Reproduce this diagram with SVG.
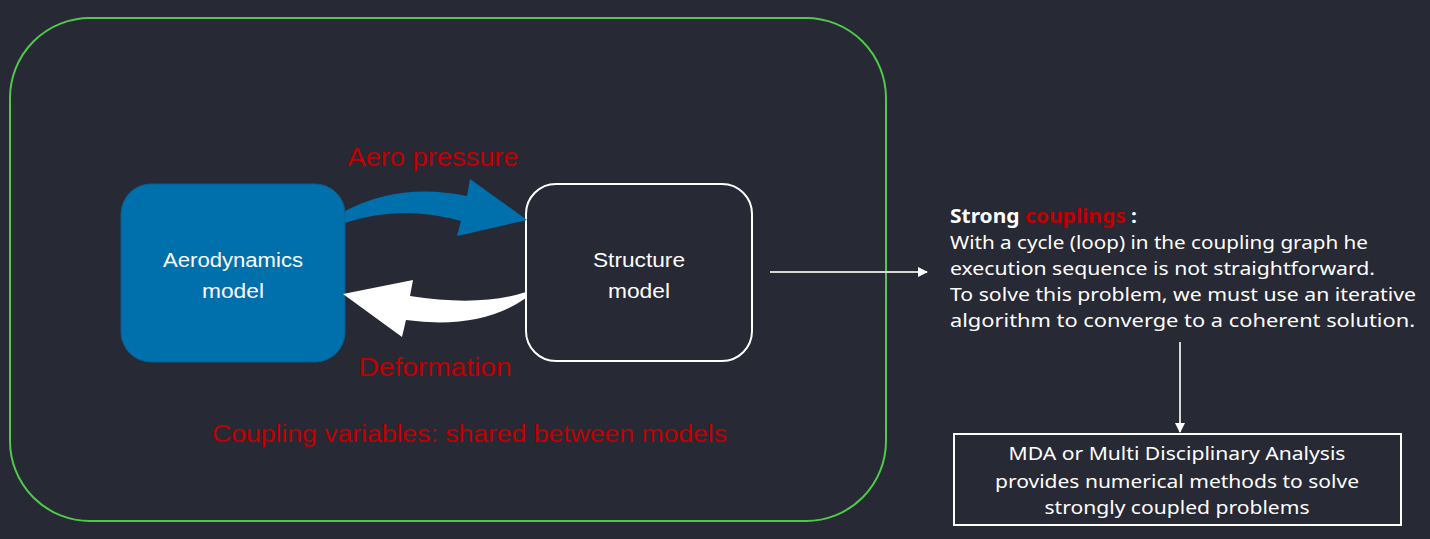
<svg xmlns="http://www.w3.org/2000/svg" width="1430" height="539" viewBox="0 0 1430 539">
<defs>
<marker id="ah" viewBox="0 0 10 10" refX="9" refY="5" markerWidth="10" markerHeight="10" markerUnits="userSpaceOnUse" orient="auto">
<path d="M0,0 L10,5 L0,10 Z" fill="#ffffff"/>
</marker>
<style>
.red{fill:#c00000}
.cal{font-family:"Liberation Sans","Open Sans",sans-serif}
.ub{font-family:"Noto Sans","Open Sans",sans-serif}
.wt{fill:#ffffff}
.conn{stroke:#d8d8d8;stroke-width:2;fill:none;marker-end:url(#ah)}
</style>
</defs>
<rect x="0" y="0" width="1430" height="539" fill="#272935"/>
<g id="frame">
<rect x="10" y="18" width="876" height="503" rx="80" ry="80" fill="none" stroke="#4ec94a" stroke-width="2"/>
</g>
<g id="aero">
<rect x="121" y="184" width="224" height="178" rx="30" ry="30" fill="#0070ad" stroke="#0a5d8e" stroke-width="1"/>
<text class="cal wt" x="233" y="267" font-size="20" text-anchor="middle" textLength="140" lengthAdjust="spacingAndGlyphs">Aerodynamics</text>
<text class="cal wt" x="233" y="298" font-size="20" text-anchor="middle" textLength="62" lengthAdjust="spacingAndGlyphs">model</text>
</g>
<g id="structure">
<rect x="526" y="184" width="226" height="177" rx="30" ry="30" fill="#272935" stroke="#ffffff" stroke-width="2"/>
<text class="cal wt" x="639" y="267" font-size="20" text-anchor="middle" textLength="92" lengthAdjust="spacingAndGlyphs">Structure</text>
<text class="cal wt" x="639" y="298" font-size="20" text-anchor="middle" textLength="62" lengthAdjust="spacingAndGlyphs">model</text>
</g>
<g id="connectors">
<path d="M345,211 Q400,182 467,196 L470,179 L527,220 L457,236 L461,221 Q400,204 345,223 Z" fill="#0070ad"/>
<path d="M526,292 Q480,307 410,296 L413,280 L343,294 L402,337 L406,320 Q480,330 526,298 Z" fill="#ffffff"/>
<line class="conn" x1="770" y1="272" x2="927" y2="272"/>
<line class="conn" x1="1180" y1="342" x2="1180" y2="432"/>
</g>
<g id="labels">
<text class="cal red" x="433" y="166" font-size="25" text-anchor="middle" textLength="171" lengthAdjust="spacingAndGlyphs">Aero pressure</text>
<text class="cal red" x="435" y="376" font-size="25" text-anchor="middle" textLength="153" lengthAdjust="spacingAndGlyphs">Deformation</text>
<text class="cal red" x="212" y="442" font-size="23" textLength="515" lengthAdjust="spacingAndGlyphs">Coupling variables: shared between models</text>
</g>
<g id="note">
<text class="ub" x="950" y="223" font-size="19" font-weight="bold" textLength="187" lengthAdjust="spacingAndGlyphs"><tspan class="wt">Strong </tspan><tspan class="red">couplings</tspan><tspan class="wt"> :</tspan></text>
<text class="ub wt" x="950" y="249" font-size="18" textLength="418" lengthAdjust="spacingAndGlyphs">With a cycle (loop) in the coupling graph he</text>
<text class="ub wt" x="950" y="275" font-size="18" textLength="425" lengthAdjust="spacingAndGlyphs">execution sequence is not straightforward.</text>
<text class="ub wt" x="950" y="301" font-size="18" textLength="466" lengthAdjust="spacingAndGlyphs">To solve this problem, we must use an iterative</text>
<text class="ub wt" x="950" y="327" font-size="18" textLength="465" lengthAdjust="spacingAndGlyphs">algorithm to converge to a coherent solution.</text>
</g>
<g id="mda">
<rect x="954" y="434" width="447" height="91" fill="#272935" stroke="#ffffff" stroke-width="2"/>
<text class="ub wt" x="1177" y="460" font-size="18" text-anchor="middle" textLength="337" lengthAdjust="spacingAndGlyphs">MDA or Multi Disciplinary Analysis</text>
<text class="ub wt" x="1177" y="488" font-size="18" text-anchor="middle" textLength="364" lengthAdjust="spacingAndGlyphs">provides numerical methods to solve</text>
<text class="ub wt" x="1177" y="514" font-size="18" text-anchor="middle" textLength="265" lengthAdjust="spacingAndGlyphs">strongly coupled problems</text>
</g>
</svg>
